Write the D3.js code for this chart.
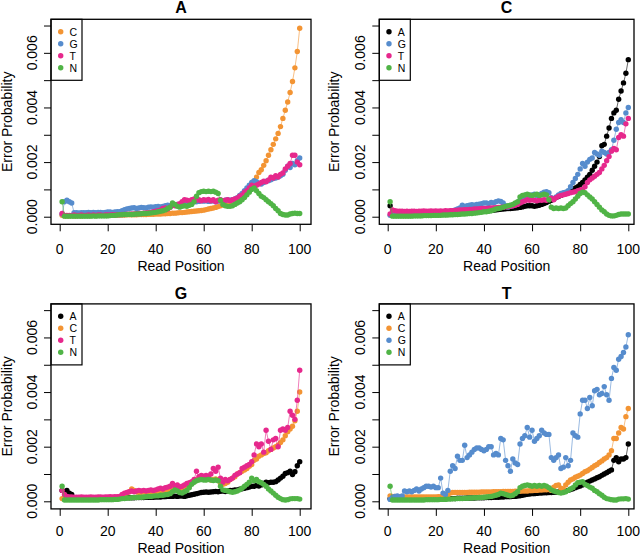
<!DOCTYPE html>
<html><head><meta charset="utf-8">
<script src="https://cdn.jsdelivr.net/npm/d3@7"></script>
<style>body{margin:0;background:#fff}svg{display:block;font-family:"Liberation Sans",Arial,Helvetica,sans-serif}</style>
</head><body>
<script>
// Values in units of 0.001 (error probability x 1000)
const positions = d3.range(1, 101);
const xTicks = [0, 20, 40, 60, 80, 100];
const yTicks = [0, 1, 2, 3, 4, 5, 6, 7];
const yTickLabels = {0: "0.000", 2: "0.002", 4: "0.004", 6: "0.006"};

const A_C = [0.05,0.03,0.03,0.03,0.04,0.03,0.03,0.04,0.03,0.04,0.04,0.04,0.04,0.05,0.04,0.05,0.05,0.05,0.05,0.05,0.05,0.06,0.05,0.06,0.06,0.06,0.06,0.07,0.07,0.07,0.07,0.07,0.08,0.08,0.08,0.08,0.09,0.09,0.09,0.10,0.10,0.10,0.11,0.11,0.12,0.12,0.13,0.13,0.14,0.15,0.15,0.16,0.17,0.18,0.19,0.20,0.21,0.22,0.23,0.24,0.26,0.28,0.30,0.32,0.34,0.37,0.40,0.43,0.46,0.50,0.54,0.58,0.63,0.69,0.76,0.82,0.90,0.98,1.07,1.18,1.30,1.45,1.62,1.72,1.88,2.05,2.25,2.45,2.65,2.85,3.05,3.30,3.60,3.90,4.20,4.55,4.95,5.45,6.05,6.90];
const A_G = [0.10,0.55,0.60,0.55,0.50,0.15,0.15,0.14,0.15,0.15,0.15,0.16,0.15,0.16,0.15,0.16,0.16,0.15,0.16,0.17,0.17,0.16,0.17,0.18,0.18,0.22,0.26,0.28,0.30,0.32,0.33,0.30,0.32,0.34,0.33,0.32,0.35,0.36,0.35,0.37,0.38,0.36,0.38,0.40,0.42,0.40,0.42,0.44,0.45,0.44,0.45,0.47,0.50,0.48,0.52,0.55,0.55,0.56,0.58,0.57,0.58,0.56,0.57,0.58,0.55,0.57,0.60,0.58,0.60,0.62,0.60,0.62,0.65,0.70,0.78,0.85,0.95,1.05,1.15,1.25,1.32,1.28,1.22,1.20,1.25,1.30,1.32,1.35,1.40,1.42,1.45,1.50,1.55,1.70,1.85,1.80,1.95,1.90,2.05,2.15];
const A_T = [0.12,0.05,0.05,0.05,0.05,0.06,0.05,0.05,0.06,0.05,0.05,0.06,0.05,0.06,0.05,0.06,0.06,0.05,0.06,0.06,0.06,0.07,0.06,0.07,0.07,0.08,0.08,0.09,0.09,0.10,0.10,0.11,0.12,0.12,0.13,0.14,0.15,0.16,0.18,0.20,0.22,0.25,0.30,0.32,0.28,0.35,0.42,0.40,0.45,0.48,0.55,0.62,0.60,0.58,0.62,0.65,0.60,0.62,0.58,0.62,0.60,0.63,0.58,0.62,0.55,0.60,0.62,0.58,0.60,0.62,0.58,0.62,0.65,0.68,0.75,0.80,0.90,0.95,1.05,1.15,1.10,1.15,1.20,1.25,1.30,1.28,1.35,1.45,1.42,1.50,1.45,1.55,1.60,1.75,1.85,1.95,2.25,2.25,2.00,1.90];
const A_N = [0.55,0.02,0.02,0.02,0.02,0.02,0.02,0.02,0.02,0.02,0.02,0.02,0.02,0.03,0.02,0.03,0.03,0.03,0.03,0.03,0.04,0.05,0.05,0.06,0.07,0.07,0.08,0.08,0.09,0.08,0.09,0.10,0.10,0.11,0.12,0.12,0.13,0.14,0.15,0.16,0.18,0.20,0.22,0.25,0.30,0.35,0.50,0.45,0.38,0.35,0.38,0.40,0.38,0.42,0.45,0.55,0.75,0.88,0.92,0.93,0.92,0.93,0.92,0.93,0.90,0.85,0.60,0.45,0.40,0.38,0.38,0.40,0.45,0.50,0.55,0.62,0.70,0.80,0.90,1.00,1.05,0.95,0.85,0.75,0.70,0.62,0.55,0.48,0.40,0.30,0.22,0.12,0.08,0.06,0.06,0.10,0.12,0.13,0.12,0.12];

const C_A = [0.40,0.05,0.05,0.05,0.05,0.05,0.05,0.05,0.05,0.05,0.05,0.05,0.06,0.06,0.06,0.06,0.06,0.07,0.07,0.07,0.07,0.08,0.08,0.08,0.09,0.10,0.10,0.11,0.12,0.12,0.13,0.14,0.15,0.15,0.16,0.17,0.18,0.19,0.20,0.21,0.22,0.22,0.23,0.24,0.25,0.26,0.27,0.28,0.29,0.30,0.30,0.31,0.32,0.33,0.34,0.36,0.38,0.40,0.40,0.40,0.38,0.40,0.42,0.45,0.48,0.52,0.56,0.60,0.65,0.70,0.74,0.78,0.82,0.86,0.90,0.95,1.00,1.05,1.10,1.18,1.25,1.35,1.45,1.55,1.70,1.85,2.00,2.20,2.60,2.65,2.95,3.25,3.60,3.80,3.90,4.30,4.60,4.90,5.25,5.75];
const C_G = [0.05,0.15,0.15,0.15,0.15,0.14,0.15,0.15,0.15,0.15,0.15,0.15,0.16,0.15,0.16,0.16,0.15,0.16,0.16,0.16,0.16,0.17,0.17,0.17,0.18,0.20,0.22,0.25,0.28,0.32,0.42,0.38,0.40,0.42,0.44,0.42,0.45,0.46,0.48,0.50,0.50,0.48,0.52,0.50,0.55,0.58,0.56,0.50,0.40,0.35,0.38,0.40,0.45,0.50,0.60,0.68,0.78,0.80,0.78,0.80,0.82,0.78,0.80,0.85,0.90,0.92,0.88,0.70,0.65,0.72,0.80,0.85,0.88,0.90,0.95,1.10,1.25,1.40,1.55,1.75,1.95,1.85,2.00,2.10,2.15,2.35,2.30,2.25,2.40,2.35,2.30,2.35,2.45,2.80,3.20,3.45,3.55,3.45,3.80,4.00];
const C_T = [0.10,0.25,0.22,0.20,0.20,0.20,0.19,0.20,0.19,0.20,0.20,0.19,0.20,0.20,0.21,0.20,0.20,0.21,0.20,0.21,0.20,0.21,0.20,0.22,0.21,0.22,0.22,0.23,0.24,0.25,0.25,0.26,0.26,0.27,0.27,0.28,0.28,0.29,0.30,0.30,0.30,0.31,0.32,0.32,0.33,0.34,0.35,0.35,0.36,0.37,0.38,0.40,0.42,0.45,0.50,0.55,0.58,0.62,0.60,0.62,0.60,0.58,0.62,0.60,0.62,0.60,0.65,0.68,0.62,0.70,0.75,0.78,0.80,0.82,0.85,0.88,0.90,0.92,0.95,0.98,1.00,1.10,1.25,1.35,1.42,1.48,1.55,1.62,1.75,1.88,2.05,2.20,2.40,2.50,2.45,2.90,3.00,2.95,3.40,3.60];
const C_N = [0.55,0.02,0.02,0.02,0.02,0.02,0.02,0.02,0.02,0.02,0.03,0.03,0.03,0.03,0.04,0.04,0.04,0.04,0.05,0.05,0.05,0.05,0.06,0.06,0.06,0.07,0.07,0.08,0.08,0.09,0.10,0.10,0.11,0.12,0.12,0.13,0.14,0.15,0.16,0.18,0.18,0.20,0.22,0.25,0.28,0.30,0.32,0.35,0.38,0.40,0.42,0.45,0.50,0.55,0.72,0.78,0.80,0.82,0.80,0.78,0.80,0.82,0.78,0.80,0.82,0.80,0.62,0.35,0.30,0.32,0.30,0.32,0.30,0.32,0.40,0.48,0.55,0.65,0.75,0.85,0.90,0.88,0.80,0.72,0.65,0.55,0.45,0.35,0.25,0.18,0.10,0.05,0.03,0.03,0.05,0.08,0.10,0.10,0.10,0.10];

const G_A = [0.40,0.35,0.40,0.30,0.25,0.12,0.10,0.10,0.10,0.10,0.10,0.10,0.10,0.10,0.10,0.10,0.10,0.10,0.11,0.11,0.11,0.11,0.12,0.12,0.12,0.12,0.13,0.13,0.13,0.13,0.13,0.14,0.14,0.14,0.14,0.15,0.15,0.15,0.15,0.16,0.16,0.16,0.17,0.17,0.18,0.18,0.18,0.19,0.18,0.19,0.19,0.18,0.20,0.22,0.24,0.26,0.28,0.30,0.32,0.33,0.34,0.33,0.34,0.35,0.36,0.35,0.37,0.38,0.36,0.38,0.40,0.40,0.42,0.42,0.44,0.46,0.48,0.50,0.52,0.55,0.55,0.58,0.56,0.60,0.65,0.70,0.68,0.70,0.70,0.72,0.78,0.85,0.92,1.02,1.05,1.10,0.98,1.08,1.30,1.45];
const G_C = [0.10,0.12,0.10,0.10,0.10,0.10,0.10,0.10,0.10,0.10,0.10,0.10,0.11,0.10,0.11,0.11,0.11,0.12,0.12,0.12,0.12,0.13,0.13,0.14,0.16,0.20,0.25,0.30,0.35,0.45,0.40,0.35,0.32,0.33,0.35,0.33,0.34,0.35,0.36,0.35,0.36,0.38,0.37,0.40,0.42,0.40,0.42,0.45,0.42,0.40,0.42,0.48,0.52,0.58,0.65,0.72,0.80,0.82,0.85,0.82,0.80,0.82,0.78,0.80,0.82,0.78,0.65,0.62,0.65,0.70,0.80,0.85,0.90,1.00,1.05,1.10,1.15,1.20,1.28,1.35,1.50,1.55,1.65,1.70,1.75,1.78,1.85,1.90,1.95,2.00,2.05,2.15,2.25,2.40,2.55,2.65,2.75,2.95,3.30,4.00];
const G_T = [0.40,0.25,0.18,0.16,0.16,0.15,0.15,0.15,0.16,0.15,0.15,0.15,0.16,0.15,0.15,0.16,0.16,0.15,0.16,0.16,0.17,0.16,0.17,0.17,0.18,0.25,0.30,0.32,0.35,0.38,0.35,0.38,0.40,0.38,0.40,0.38,0.40,0.42,0.40,0.42,0.45,0.48,0.45,0.50,0.52,0.55,0.65,0.55,0.60,0.52,0.55,0.60,0.65,0.68,0.72,0.80,1.10,0.90,0.95,0.92,0.95,0.92,1.00,1.20,1.10,1.25,0.85,0.70,0.80,0.75,0.80,0.85,0.95,1.00,1.05,1.20,1.25,1.30,1.35,1.45,1.70,2.10,2.00,2.10,1.80,2.60,2.20,1.90,2.25,2.30,2.00,2.60,2.65,2.60,2.70,3.30,3.15,3.00,3.70,4.80];
const G_N = [0.55,0.05,0.05,0.05,0.05,0.05,0.05,0.05,0.05,0.05,0.05,0.05,0.05,0.05,0.05,0.05,0.06,0.06,0.06,0.06,0.06,0.06,0.07,0.07,0.08,0.10,0.10,0.12,0.12,0.13,0.14,0.14,0.15,0.15,0.16,0.17,0.18,0.18,0.19,0.20,0.20,0.22,0.22,0.24,0.25,0.28,0.35,0.42,0.38,0.32,0.30,0.35,0.40,0.50,0.62,0.70,0.75,0.78,0.80,0.78,0.78,0.80,0.78,0.76,0.78,0.75,0.55,0.42,0.40,0.38,0.35,0.33,0.35,0.38,0.42,0.48,0.55,0.62,0.70,0.85,0.75,0.80,0.72,0.68,0.62,0.55,0.45,0.38,0.30,0.22,0.15,0.10,0.06,0.05,0.06,0.09,0.10,0.10,0.10,0.08];

const T_A = [0.10,0.08,0.07,0.07,0.07,0.07,0.07,0.07,0.07,0.07,0.07,0.07,0.07,0.08,0.08,0.08,0.08,0.08,0.08,0.08,0.09,0.09,0.09,0.09,0.10,0.10,0.10,0.10,0.11,0.11,0.11,0.11,0.12,0.12,0.12,0.12,0.13,0.13,0.13,0.13,0.14,0.14,0.14,0.15,0.15,0.15,0.16,0.16,0.17,0.17,0.17,0.18,0.18,0.19,0.20,0.22,0.24,0.26,0.27,0.28,0.28,0.29,0.30,0.30,0.31,0.31,0.32,0.32,0.33,0.33,0.34,0.35,0.36,0.38,0.40,0.43,0.46,0.50,0.53,0.56,0.60,0.65,0.70,0.74,0.78,0.82,0.86,0.90,0.95,1.00,1.05,1.10,1.15,1.50,1.60,1.45,1.55,1.55,1.60,2.10];
const T_C = [0.20,0.18,0.18,0.17,0.17,0.17,0.16,0.16,0.16,0.16,0.16,0.16,0.16,0.16,0.16,0.16,0.16,0.16,0.16,0.16,0.17,0.17,0.17,0.17,0.17,0.30,0.32,0.32,0.32,0.32,0.32,0.32,0.32,0.33,0.33,0.33,0.33,0.33,0.34,0.34,0.34,0.34,0.34,0.35,0.35,0.35,0.35,0.36,0.36,0.36,0.36,0.36,0.37,0.37,0.37,0.38,0.38,0.38,0.39,0.39,0.40,0.40,0.41,0.41,0.42,0.42,0.43,0.40,0.52,0.58,0.60,0.48,0.45,0.60,0.70,0.78,0.82,0.88,0.92,0.96,1.02,1.08,1.12,1.18,1.24,1.30,1.35,1.42,1.48,1.55,1.60,1.70,1.85,2.30,2.30,2.50,2.70,2.65,3.10,3.40];
const T_G = [0.07,0.15,0.18,0.20,0.15,0.20,0.38,0.35,0.38,0.35,0.40,0.45,0.38,0.45,0.50,0.55,0.55,0.52,0.55,0.50,0.50,0.85,0.30,0.25,0.40,1.10,1.30,1.20,1.65,1.50,1.50,2.05,1.60,1.70,1.80,1.90,1.95,1.95,1.90,1.85,1.90,2.00,2.00,1.70,1.75,1.70,2.30,2.25,1.50,1.30,1.10,1.55,1.40,1.35,2.10,2.30,2.40,2.70,2.35,2.60,2.20,2.30,2.40,2.60,2.50,2.45,2.45,1.60,1.50,1.60,1.70,1.20,1.25,1.60,1.30,1.50,2.50,2.40,2.35,3.20,3.70,3.70,3.40,3.80,3.50,4.05,4.10,3.90,3.95,4.20,3.90,3.70,4.50,4.90,4.80,5.20,5.30,5.45,5.65,6.10];
const T_N = [0.55,0.05,0.05,0.05,0.05,0.05,0.05,0.05,0.05,0.05,0.05,0.05,0.05,0.05,0.05,0.06,0.06,0.06,0.06,0.06,0.06,0.07,0.07,0.07,0.08,0.08,0.09,0.09,0.10,0.10,0.10,0.11,0.11,0.12,0.12,0.13,0.13,0.14,0.14,0.15,0.16,0.17,0.18,0.20,0.22,0.25,0.30,0.28,0.25,0.22,0.20,0.22,0.28,0.35,0.50,0.55,0.58,0.60,0.58,0.55,0.58,0.55,0.58,0.55,0.58,0.55,0.50,0.42,0.38,0.35,0.32,0.30,0.32,0.35,0.40,0.45,0.50,0.60,0.68,0.70,0.72,0.62,0.58,0.52,0.48,0.40,0.35,0.28,0.22,0.15,0.10,0.08,0.06,0.05,0.05,0.08,0.09,0.09,0.10,0.08];

const colors = {A: "#000000", C: "#F39433", G: "#568CCD", T: "#E6288C", N: "#50B446"};

const panels = [
  {title: "A", series: [["C", A_C], ["G", A_G], ["T", A_T], ["N", A_N]], box: [51, 311, 19.3, 224.3], x0: 59.7, x100: 299.7, titleY: 13, tickY: 254, labY: 270.5, ytX: 36.7, ylX: 11.5},
  {title: "C", series: [["A", C_A], ["G", C_G], ["T", C_T], ["N", C_N]], box: [379.3, 634, 19.3, 224.3], x0: 387.7, x100: 628.3, titleY: 13, tickY: 254, labY: 270.5, ytX: 364.5, ylX: 338.5},
  {title: "G", series: [["A", G_A], ["C", G_C], ["T", G_T], ["N", G_N]], box: [51, 311, 303.9, 508.9], x0: 59.7, x100: 299.7, titleY: 298.5, tickY: 535.5, labY: 552.5, ytX: 36.7, ylX: 11.5},
  {title: "T", series: [["A", T_A], ["C", T_C], ["G", T_G], ["N", T_N]], box: [379.3, 634, 303.9, 508.9], x0: 387.7, x100: 628.3, titleY: 298.5, tickY: 535.5, labY: 552.5, ytX: 364.5, ylX: 338.5}
];

const svg = d3.select("body").append("svg").attr("width", 640).attr("height", 554);

panels.forEach(p => {
  const [L, R, T, B] = p.box;
  const x = d3.scaleLinear().domain([0, 100]).range([p.x0, p.x100]);
  const y = d3.scaleLinear().domain([-0.278, 7.228]).range([B, T]);
  const g = svg.append("g");

  // x axis
  const xa = g.append("g").attr("transform", `translate(0,${B})`)
    .call(d3.axisBottom(x).tickValues(xTicks).tickSize(7).tickFormat(""));
  xa.select(".domain").remove();
  xa.selectAll("line").attr("stroke", "#000").attr("stroke-width", 1);
  g.selectAll(null).data(xTicks).enter().append("text")
    .attr("x", d => x(d)).attr("y", p.tickY).attr("text-anchor", "middle")
    .attr("font-size", 14).text(d => d);

  // y axis
  const ya = g.append("g").attr("transform", `translate(${L},0)`)
    .call(d3.axisLeft(y).tickValues(yTicks).tickSize(7).tickFormat(""));
  ya.select(".domain").remove();
  ya.selectAll("line").attr("stroke", "#000").attr("stroke-width", 1);
  g.selectAll(null).data(yTicks.filter(v => yTickLabels[v] !== undefined)).enter().append("text")
    .attr("transform", d => `translate(${p.ytX},${y(d)}) rotate(-90)`)
    .attr("text-anchor", "middle").attr("font-size", 14).text(d => yTickLabels[d]);

  // labels
  g.append("text").attr("x", (L + R) / 2).attr("y", p.labY).attr("text-anchor", "middle")
    .attr("font-size", 14).text("Read Position");
  g.append("text").attr("transform", `translate(${p.ylX},${(T + B) / 2}) rotate(-90)`)
    .attr("text-anchor", "middle").attr("font-size", 14).text("Error Probability");
  g.append("text").attr("x", (L + R) / 2).attr("y", p.titleY).attr("text-anchor", "middle")
    .attr("font-size", 16).attr("font-weight", "bold").text(p.title);

  // series
  const line = d3.line().x((d, i) => x(positions[i])).y(d => y(d));
  p.series.forEach(([key, vals]) => {
    g.append("path").datum(vals).attr("d", line).attr("fill", "none")
      .attr("stroke", colors[key]).attr("stroke-width", 1).attr("stroke-opacity", 0.6);
    g.selectAll(null).data(vals).enter().append("circle")
      .attr("cx", (d, i) => x(positions[i])).attr("cy", d => y(d)).attr("r", 2.7)
      .attr("fill", colors[key]);
  });

  // legend
  const lg = g.append("g");
  lg.append("rect").attr("x", L).attr("y", T).attr("width", 31).attr("height", 61)
    .attr("fill", "#fff").attr("stroke", "#000").attr("stroke-width", 1.2);
  p.series.forEach(([key], i) => {
    const cy = T + 12.4 + i * 12;
    lg.append("circle").attr("cx", L + 9.7).attr("cy", cy).attr("r", 2.7).attr("fill", colors[key]);
    lg.append("text").attr("x", L + 18.5).attr("y", cy + 3.8).attr("font-size", 10.5).text(key);
  });

  // box
  g.append("rect").attr("x", L).attr("y", T).attr("width", R - L).attr("height", B - T)
    .attr("fill", "none").attr("stroke", "#000").attr("stroke-width", 1.3);
});
</script>
</body></html>
